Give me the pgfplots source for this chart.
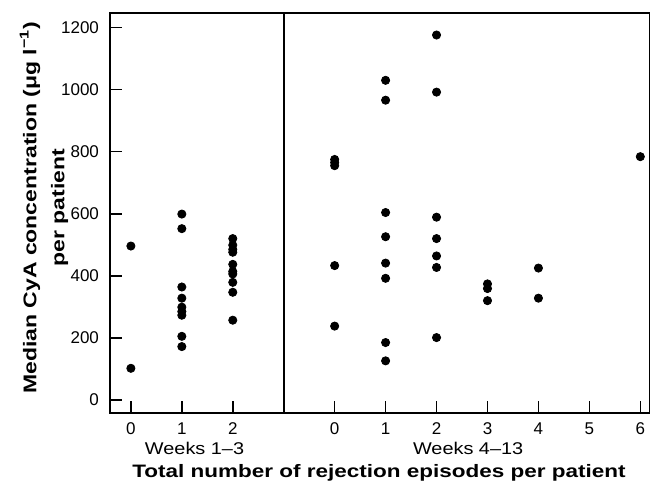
\documentclass[border=0pt]{standalone}
\usepackage{fontspec}
\setmainfont{Liberation Sans}
\newfontfamily\wideR{Liberation Sans}[FakeStretch=1.17]
\newfontfamily\wideB{Liberation Sans}[FakeStretch=1.25]
\usepackage{pgfplots}
\pgfplotsset{compat=1.18}

\begin{document}
\begin{tikzpicture}
\begin{axis}[
    name=ax,
    scale only axis,
    width=270pt, height=200pt,
    xmin=-0.41, xmax=10.19,
    ymin=-42, ymax=1247,
    axis line style={line width=1pt},
    xtick={0,1,2,4,5,6,7,8,9,10},
    xticklabels={0,1,2,0,1,2,3,4,5,6},
    ytick={0,200,400,600,800,1000,1200},
    xtick pos=bottom, ytick pos=left,
    tick align=inside,
    major tick length=6pt,
    tick style={line width=0.8pt, black},
    /pgf/number format/assume math mode=true,
    /pgf/number format/1000 sep={},
    ticklabel style={font=\fontsize{8.5}{10}\selectfont},
    xticklabel style={yshift=-1.2pt},
    yticklabel style={xshift=-2pt},
    clip=false,
]
  \addplot[only marks, mark=*, mark size=2.05pt, black] coordinates {
    (0,496) (0,102)
    (1,599) (1,552) (1,364) (1,328) (1,299) (1,285) (1,273) (1,205) (1,172)
    (2,520) (2,499) (2,485) (2,476) (2,437) (2,414) (2,406) (2,379) (2,347) (2,257)
    (4,775) (4,765) (4,755) (4,433) (4,238)
    (5,1030) (5,966) (5,604) (5,526) (5,441) (5,392) (5,185) (5,126)
    (6,1176) (6,992) (6,589) (6,520) (6,464) (6,427) (6,201)
    (7,374) (7,359) (7,320)
    (8,425) (8,328)
    (10,784)
  };
  % panel divider
  \draw[line width=1pt] (axis cs:3,-42) -- (axis cs:3,1247);
  % group labels
  \node[anchor=base, font=\wideR\fontsize{8.5}{10}\selectfont, yshift=-21pt]
    at (axis cs:1.25,-42) {Weeks 1–3};
  \node[anchor=base, font=\wideR\fontsize{8.5}{10}\selectfont, yshift=-21pt]
    at (axis cs:6.62,-42) {Weeks 4–13};
  \node[anchor=base, font=\wideB\bfseries\fontsize{9}{10}\selectfont, yshift=-32.5pt]
    at (axis cs:4.87,-42) {Total number of rejection episodes per patient};
  \node[xshift=-33pt, rotate=90, align=center,
        font=\wideB\bfseries\fontsize{9.2}{14}\selectfont]
    at (axis cs:-0.41,619) {Median CyA concentration (μg l\textsuperscript{−1})\\per patient};
\end{axis}
\pgfresetboundingbox
\path[use as bounding box] ([shift={(-55pt,-35.5pt)}]ax.south west) rectangle ([shift={(0pt,6.5pt)}]ax.north east);
\end{tikzpicture}
\end{document}
